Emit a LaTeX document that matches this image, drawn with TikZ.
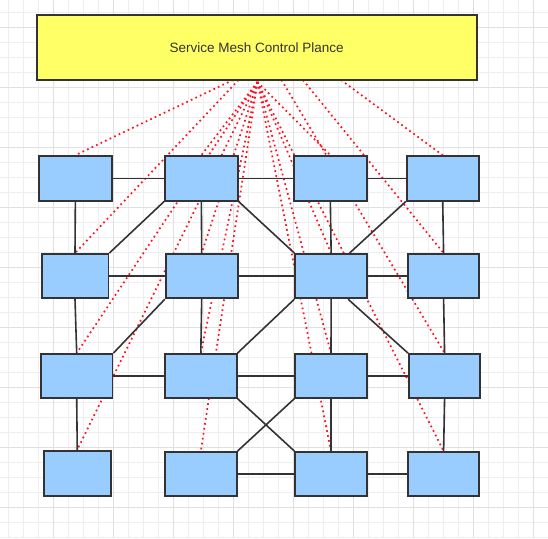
\documentclass[tikz,border=0pt]{standalone}
\usepackage{fontspec}
\setmainfont{Liberation Sans}
\usetikzlibrary{calc}
\pgfdeclarelayer{gridlayer}
\pgfdeclarelayer{edgelayer}
\pgfsetlayers{gridlayer,edgelayer,main}
\definecolor{boxblue}{HTML}{99CCFF}
\definecolor{boxyellow}{HTML}{FFFF66}
\definecolor{edgegray}{HTML}{333333}
\definecolor{gridminor}{HTML}{EEEEEE}
\definecolor{gridmajor}{HTML}{E0E0E0}
\definecolor{ctrlred}{HTML}{FF1020}
\begin{document}
\begin{tikzpicture}[x=1pt,y=-1pt,
  svc/.style={draw=edgegray, line width=1.8pt, fill=boxblue, inner sep=0pt, minimum height=44.5pt, minimum width=72pt},
  ctrl/.style={draw=edgegray, line width=1.8pt, fill=boxyellow, inner sep=0pt, minimum width=440pt, minimum height=65pt, font=\fontsize{13.5}{16}\selectfont, text=edgegray},
  link/.style={draw=edgegray, line width=1.6pt},
  sync/.style={draw=ctrlred, line width=1.7pt, dash pattern=on 1.7pt off 3.3pt},
  minorgrid/.style={draw=gridminor, line width=1pt},
  majorgrid/.style={draw=gridmajor, line width=1pt}]
\useasboundingbox (0,0) rectangle (548,538);

% nodes
\node[ctrl] (CP) at (256.7,47.5) {Service Mesh Control Plance};

\node[svc, minimum width=72.7pt] (A1) at (75.35,178.35) {};
\node[svc, minimum width=72.7pt] (B1) at (201.35,178.35) {};
\node[svc, minimum width=72.7pt] (C1) at (330.35,178.35) {};
\node[svc] (D1) at (442.7,178.35) {};

\node[svc, minimum width=66.8pt, minimum height=44.3pt] (A2) at (75,276.15) {};
\node[svc, minimum height=44.3pt] (B2) at (201.7,276.15) {};
\node[svc, minimum width=71.7pt, minimum height=44.3pt] (C2) at (331.15,276.15) {};
\node[svc, minimum width=71pt, minimum height=44.3pt] (D2) at (443.6,276.15) {};

\node[svc, minimum width=71.6pt, minimum height=43.7pt] (A3) at (76.7,375.85) {};
\node[svc, minimum width=71.6pt, minimum height=43.7pt] (B3) at (200.8,375.85) {};
\node[svc, minimum width=71.4pt, minimum height=43.7pt] (C3) at (331,375.85) {};
\node[svc, minimum width=71.4pt, minimum height=43.7pt] (D3) at (444.6,375.85) {};

\node[svc, minimum width=67.1pt, minimum height=45.3pt] (A4) at (77.25,473.35) {};
\node[svc, minimum width=71.6pt, minimum height=44.3pt] (B4) at (200.8,474.15) {};
\node[svc, minimum width=71.4pt, minimum height=44.3pt] (C4) at (331,474.15) {};
\node[svc, minimum width=71pt, minimum height=44.3pt] (D4) at (443.6,474.15) {};

% sources on the control plane
\coordinate (s0) at (257.5,82);
\coordinate (sA1) at (233,80);
\coordinate (sA2) at (238.5,80);
\coordinate (sD3) at (281.5,80);
\coordinate (sD2) at (303,80);
\coordinate (sD1) at (341,80);

% background and grid
\begin{pgfonlayer}{gridlayer}
  \fill[white] (0,0) rectangle (548,538);
  \foreach \i in {0,...,36} \draw[minorgrid] ({8.3+15*\i},0) -- ({8.3+15*\i},538);
  \foreach \i in {0,...,35} \draw[minorgrid] (0,{12.7+15*\i}) -- (548,{12.7+15*\i});
  \foreach \i in {0,...,8} \draw[majorgrid] ({53.3+60*\i},0) -- ({53.3+60*\i},538);
  \foreach \i in {0,...,8} \draw[majorgrid] (0,{27.7+60*\i}) -- (548,{27.7+60*\i});
\end{pgfonlayer}

\begin{pgfonlayer}{edgelayer}
  % control plane links
  \draw[sync] (sA1) -- (A1.north);
  \draw[sync] (sA2) -- (A2.north);
  \draw[sync] (s0) -- (A3.north);
  \draw[sync] (s0) -- (A4.north);
  \draw[sync] (s0) -- (B1.north);
  \draw[sync] (s0) -- (B2.north);
  \draw[sync] (s0) -- (B3.north);
  \draw[sync] (s0) -- (B4.north);
  \draw[sync] (s0) -- (C1.north);
  \draw[sync] (s0) -- (C2.north);
  \draw[sync] (s0) -- (C3.north);
  \draw[sync] (s0) -- (C4.north);
  \draw[sync] (sD1) -- (D1.north);
  \draw[sync] (sD2) -- (D2.north);
  \draw[sync] (sD3) -- (D3.north);
  \draw[sync] (s0) -- (D4.north);

  % row 1
  \draw[link] (A1.east) -- (B1.west);
  \draw[link] (B1.east) -- (C1.west);
  \draw[link] (C1.east) -- (D1.west);
  % row 1 -> row 2
  \draw[link] (A1.south) -- (A2.north);
  \draw[link] (B1.south) -- (B2.north);
  \draw[link] (C1.south) -- (C2.north);
  \draw[link] (D1.south) -- (D2.north);
  \draw[link] (B1.south west) -- (A2.north east);
  \draw[link] (B1.south east) -- (C2.north west);
  \draw[link] (D1.south west) -- ($(C2.north west)!0.75!(C2.north east)$);
  % row 2
  \draw[link] (A2.east) -- (B2.west);
  \draw[link] (B2.east) -- (C2.west);
  \draw[link] (C2.east) -- (D2.west);
  % row 2 -> row 3
  \draw[link] (A2.south) -- (A3.north);
  \draw[link] (B2.south) -- (B3.north);
  \draw[link] (C2.south) -- (C3.north);
  \draw[link] (D2.south) -- (D3.north);
  \draw[link] (B2.south west) -- (A3.north east);
  \draw[link] (C2.south west) -- (B3.north east);
  \draw[link] ($(C2.south west)!0.73!(C2.south east)$) -- (D3.north west);
  % row 3
  \draw[link] (A3.east) -- (B3.west);
  \draw[link] (B3.east) -- (C3.west);
  \draw[link] (C3.east) -- (D3.west);
  % row 3 -> row 4
  \draw[link] (A3.south) -- (A4.north);
  \draw[link] (C3.south) -- (C4.north);
  \draw[link] (D3.south) -- (D4.north);
  \draw[link] (B3.south east) -- (C4.north west);
  \draw[link] (C3.south west) -- (B4.north east);
  % row 4
  \draw[link] (B4.east) -- (C4.west);
  \draw[link] (C4.east) -- (D4.west);
\end{pgfonlayer}
\end{tikzpicture}
\end{document}
